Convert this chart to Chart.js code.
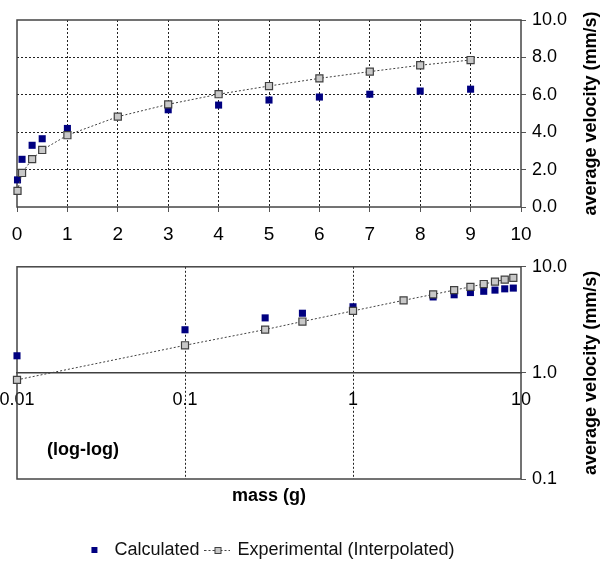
<!DOCTYPE html>
<html>
<head>
<meta charset="utf-8">
<script src="https://cdn.jsdelivr.net/npm/chart.js@4.4.0/dist/chart.umd.min.js"></script>
<style>
  html, body { margin: 0; padding: 0; background: #fff; overflow: hidden; }
  #wrap { position: relative; width: 610px; height: 565px; overflow: hidden; }
  #linear-chart { position: absolute; left: 0; top: 0; }
  #log-chart { position: absolute; left: 0; top: 250px; }
</style>
</head>
<body>
<div id="wrap">
  <canvas id="linear-chart" width="610" height="250"></canvas>
  <canvas id="log-chart" width="610" height="320"></canvas>
</div>
<script>
// mass (g) vs average velocity (mm/s)
const calcMass = [0.01, 0.1, 0.3, 0.5, 1, 3, 4, 5, 6, 7, 8, 9];
const calcVelocity = [1.45, 2.55, 3.3, 3.65, 4.2, 5.2, 5.45, 5.72, 5.88, 6.03, 6.2, 6.3];
const expMass = [0.01, 0.1, 0.3, 0.5, 1, 2, 3, 4, 5, 6, 7, 8, 9];
const expVelocity = [0.86, 1.82, 2.56, 3.05, 3.84, 4.83, 5.49, 6.03, 6.47, 6.88, 7.24, 7.58, 7.86];

const linearXTicks = [0, 1, 2, 3, 4, 5, 6, 7, 8, 9, 10];
const linearYTicks = [0, 2, 4, 6, 8, 10];
const logXTicks = [0.01, 0.1, 1, 10];
const logYTicks = [0.1, 1, 10];

const FONT = "'Liberation Sans', Arial, sans-serif";
const NAVY = '#000080';
const DARK = '#404040';

Chart.defaults.font.family = FONT;
Chart.defaults.color = '#000';

const calcPoints = calcMass.map((m, i) => ({ x: m, y: calcVelocity[i] }));
const expPoints = expMass.map((m, i) => ({ x: m, y: expVelocity[i] }));

function makeDatasets() {
    return [
        {
            label: 'Calculated',
            data: calcPoints,
            showLine: false,
            pointStyle: 'rect',
            pointRadius: 5,
            pointBackgroundColor: NAVY,
            pointBorderWidth: 0,
            backgroundColor: NAVY,
            order: 2,
            clip: false
        },
        {
            label: 'Experimental (Interpolated)',
            data: expPoints,
            showLine: true,
            borderColor: DARK,
            borderWidth: 1,
            borderDash: [2, 2],
            pointStyle: 'rect',
            pointRadius: 5,
            pointBackgroundColor: '#c8c8c8',
            pointBorderColor: DARK,
            pointBorderWidth: 1.2,
            fill: false,
            order: 1,
            clip: false
        }
    ];
}

function makeIcon(w, h, draw) {
    const c = document.createElement('canvas');
    c.width = w;
    c.height = h;
    draw(c.getContext('2d'));
    return c;
}

const legendIcons = [
    makeIcon(8, 8, g => {
        g.fillStyle = NAVY;
        g.fillRect(1, 1, 6, 6);
    }),
    makeIcon(26, 10, g => {
        g.strokeStyle = DARK;
        g.lineWidth = 1;
        g.setLineDash([2, 2]);
        g.beginPath();
        g.moveTo(0, 5.5);
        g.lineTo(26, 5.5);
        g.stroke();
        g.setLineDash([]);
        g.fillStyle = '#c8c8c8';
        g.fillRect(10.5, 2.5, 6, 6);
        g.strokeRect(10.5, 2.5, 6, 6);
    })
];

// frame round the plot area, rotated right-hand title and notes
const framePlugin = {
    id: 'frame',
    beforeDatasetsDraw(chart) {
        const { ctx, chartArea: a } = chart;
        ctx.save();
        ctx.strokeStyle = '#444';
        ctx.lineWidth = 1.5;
        ctx.strokeRect(a.left, a.top, a.right - a.left, a.bottom - a.top);
        ctx.restore();
    },
    afterDraw(chart, args, opts) {
        const { ctx, chartArea: a } = chart;
        ctx.save();
        ctx.fillStyle = '#000';
        ctx.font = 'bold 18px ' + FONT;
        ctx.textAlign = 'center';
        ctx.textBaseline = 'middle';
        ctx.translate(opts.titleX, (a.top + a.bottom) / 2);
        ctx.rotate(-Math.PI / 2);
        ctx.fillText(opts.title, 0, 0);
        ctx.restore();
        if (opts.note) {
            ctx.save();
            ctx.fillStyle = '#000';
            ctx.font = 'bold 18px ' + FONT;
            ctx.textAlign = 'left';
            ctx.textBaseline = 'middle';
            ctx.fillText(opts.note, opts.noteX, opts.noteY);
            ctx.restore();
        }
    }
};

const innerGrid = (ends) => (c) => (c.tick && ends.includes(c.tick.value)) ? 'rgba(0,0,0,0)' : '#222';
const noSidePadding = s => { s.paddingLeft = 0; s.paddingRight = 0; };

new Chart(document.getElementById('linear-chart'), {
    type: 'scatter',
    data: { datasets: makeDatasets() },
    options: {
        responsive: false,
        animation: false,
        layout: { padding: { left: 17, top: 20, right: 0, bottom: 0 } },
        plugins: {
            legend: { display: false },
            tooltip: { enabled: false },
            frame: { title: 'average velocity (mm/s)', titleX: 591 }
        },
        scales: {
            x: {
                type: 'linear',
                min: 0,
                max: 10,
                afterBuildTicks: s => { s.ticks = linearXTicks.map(v => ({ value: v })); },
                afterFit: s => { s.height = 43; },
                ticks: { font: { size: 19 }, padding: 11, callback: v => String(v) },
                grid: { color: innerGrid([0, 10]), lineWidth: 1, tickColor: '#555', tickLength: 5 },
                border: { display: false, dash: [2, 2] }
            },
            y: {
                type: 'linear',
                position: 'right',
                min: 0,
                max: 10,
                afterBuildTicks: s => { s.ticks = linearYTicks.map(v => ({ value: v })); },
                afterFit: s => { s.width = 89; },
                ticks: { font: { size: 18 }, padding: 6, callback: v => v.toFixed(1) },
                grid: { color: innerGrid([0, 10]), lineWidth: 1, tickColor: '#555', tickLength: 5 },
                border: { display: false, dash: [2, 2] }
            }
        }
    },
    plugins: [framePlugin]
});

new Chart(document.getElementById('log-chart'), {
    type: 'scatter',
    data: { datasets: makeDatasets() },
    options: {
        responsive: false,
        animation: false,
        layout: { padding: { left: 17, top: 15, right: 0, bottom: 1 } },
        plugins: {
            tooltip: { enabled: false },
            frame: { title: 'average velocity (mm/s)', titleX: 591, note: '(log-log)', noteX: 47, noteY: 200 },
            legend: {
                display: true,
                position: 'bottom',
                fullSize: false,
                labels: {
                    usePointStyle: true,
                    pointStyleWidth: 22,
                    padding: 7,
                    font: { size: 18 },
                    color: '#111',
                    generateLabels: chart => {
                        const items = Chart.defaults.plugins.legend.labels.generateLabels(chart);
                        items.sort((a, b) => a.datasetIndex - b.datasetIndex);
                        items.forEach(it => { it.pointStyle = legendIcons[it.datasetIndex]; });
                        return items;
                    }
                }
            }
        },
        scales: {
            x: {
                type: 'logarithmic',
                position: { y: 1 },
                min: 0.01,
                max: 10,
                afterBuildTicks: s => { s.ticks = logXTicks.map(v => ({ value: v })); },
                afterFit: noSidePadding,
                ticks: { font: { size: 18 }, padding: 16, callback: v => String(v) },
                grid: { color: innerGrid([0.01, 10]), lineWidth: 1, drawTicks: false },
                border: { display: true, color: DARK, width: 1.5, dash: [2, 2] }
            },
            y: {
                type: 'logarithmic',
                position: 'right',
                min: 0.1,
                max: 10,
                afterBuildTicks: s => { s.ticks = logYTicks.map(v => ({ value: v })); },
                afterFit: s => { s.width = 89; },
                ticks: { font: { size: 18 }, padding: 6, callback: v => Number(v).toFixed(1) },
                grid: { drawOnChartArea: false, tickColor: '#555', tickLength: 5 },
                border: { display: false }
            },
            x2: {
                type: 'linear',
                position: 'bottom',
                afterFit: s => { s.height = 55; noSidePadding(s); },
                ticks: { display: false },
                grid: { display: false },
                border: { display: false },
                title: {
                    display: true,
                    text: 'mass (g)',
                    color: '#000',
                    font: { size: 18, weight: 'bold' },
                    padding: { top: 0, bottom: 27 }
                }
            }
        }
    },
    plugins: [framePlugin]
});
</script>
</body>
</html>
